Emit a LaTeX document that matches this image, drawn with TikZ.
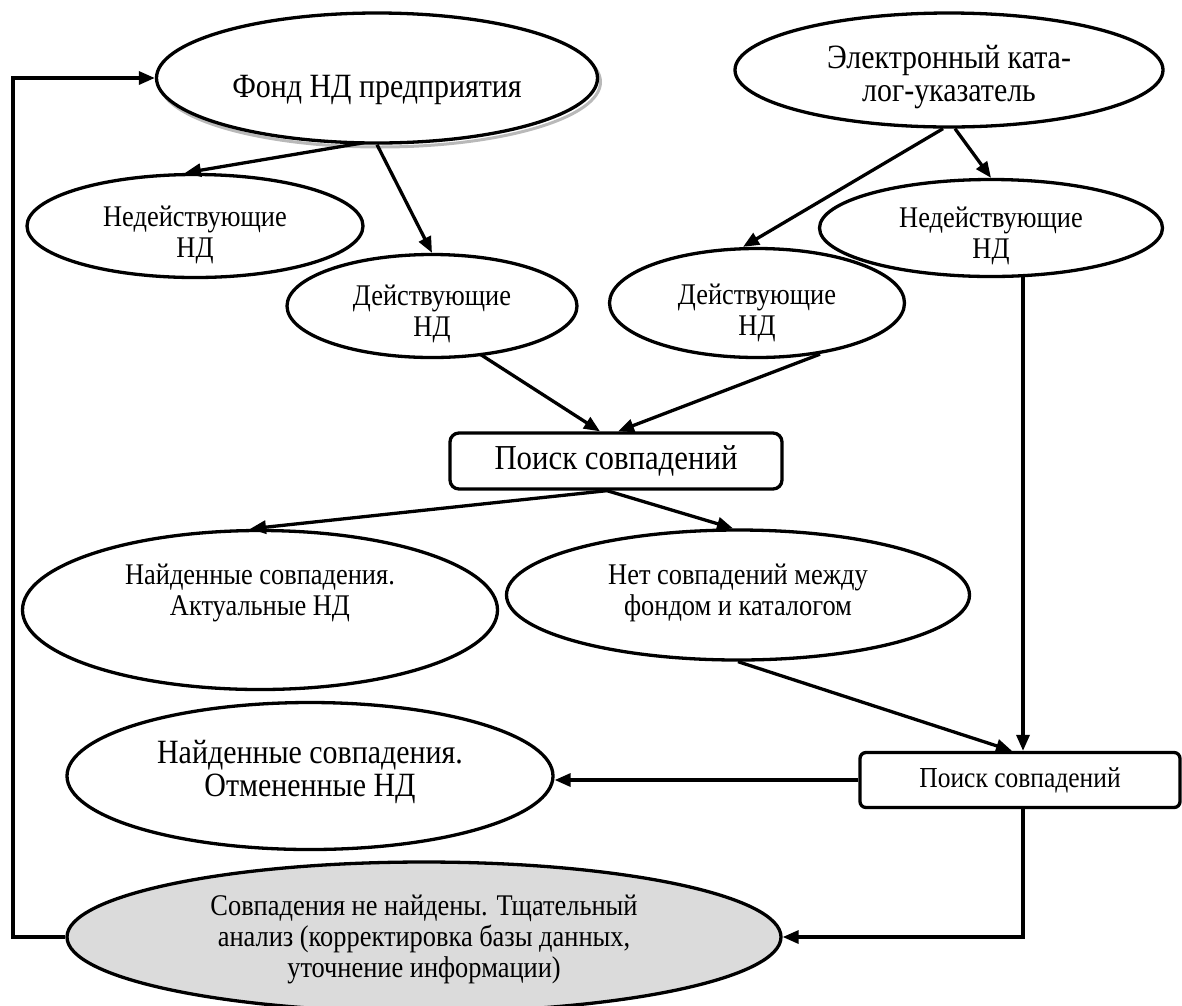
\documentclass[tikz,border=0pt]{standalone}
\usepackage{fontspec}
\setmainfont{Liberation Serif}[FakeStretch=0.88]
\usetikzlibrary{shapes.geometric,arrows.meta,calc}
\begin{document}
\begin{tikzpicture}[x=1pt,y=-1pt,
  ell/.style={ellipse,draw,line width=3.3pt,inner sep=0pt,fill=white},
  txt/.style={align=center,inner sep=0pt},
  sm/.style={font=\fontsize{30}{31}\selectfont},
  lg/.style={font=\fontsize{34}{33}\selectfont},
  rbox/.style={rectangle,rounded corners=9pt,draw,line width=3.3pt,align=center,inner sep=0pt,fill=white},
  arr/.style={line width=3.3pt,-{Triangle[length=16pt,width=13pt]}}]
\useasboundingbox (0,0) rectangle (1182,1005);
% shadow of the top-left ellipse
\node[ellipse,draw=gray!55,line width=3pt,minimum width=441pt,minimum height=130pt,inner sep=0pt] (fondsh) at (380,82) {};
% nodes
\node[ell,minimum width=441pt,minimum height=130pt,
  label={[name=fondT,txt,lg,yshift=-12pt]center:{Фонд НД предприятия}}] (fond) at (377,78) {};
\node[ell,minimum width=428pt,minimum height=114pt,
  label={[name=catT,txt,lg,yshift=-7pt]center:{Электронный ката-\\лог-указатель}}] (cat) at (949,70) {};
\node[ell,minimum width=336pt,minimum height=103pt,
  label={[name=nedLT,txt,sm,yshift=-9pt]center:{Недействующие\\НД}}] (nedL) at (195,226) {};
\node[ell,minimum width=290pt,minimum height=103pt,
  label={[name=dejLT,txt,sm,yshift=-8pt]center:{Действующие\\НД}}] (dejL) at (432,306) {};
\node[ell,minimum width=295pt,minimum height=109pt,
  label={[name=dejRT,txt,sm,yshift=-10pt]center:{Действующие\\НД}}] (dejR) at (757,303) {};
\node[ell,minimum width=343pt,minimum height=97pt,
  label={[name=nedRT,txt,sm,yshift=-8pt]center:{Недействующие\\НД}}] (nedR) at (991,228) {};
\node[rbox,font=\fontsize{35}{36}\selectfont,minimum width=332pt,minimum height=56pt] (box1) at (616,461) {Поиск совпадений};
\node[ell,minimum width=475pt,minimum height=159pt,
  label={[name=aktT,txt,sm,yshift=17pt]center:{Найденные совпадения.\\Актуальные НД}}] (akt) at (260,610) {};
\node[ell,minimum width=463pt,minimum height=130pt,
  label={[name=netT,txt,sm,yshift=2pt]center:{Нет совпадений между\\фондом и каталогом}}] (net) at (738,595) {};
\node[rbox,rounded corners=6pt,font=\fontsize{29}{30}\selectfont,minimum width=320pt,minimum height=55pt] (box2) at (1020,780) {Поиск совпадений};
\node[ell,minimum width=486pt,minimum height=147pt,
  label={[name=otmT,txt,lg,yshift=4pt]center:{Найденные совпадения.\\Отмененные НД}}] (otm) at (310,776) {};
\node[ell,fill=black!14,minimum width=714pt,minimum height=150pt,
  label={[name=grayT,txt,sm,yshift=-2pt]center:{Совпадения не найдены. Тщательный\\анализ (корректировка базы данных,\\уточнение информации)}}] (gray) at (424,937) {};
% loop back
\coordinate (loopx) at (13,0);
\draw[arr] (gray.west) -- (gray.west -| loopx) |- (fond.west);
% connectors
\draw[arr] ($(fond.south)+(-13,-2)$) -- ($(nedL.north)+(-10,0)$);
\draw[arr] ($(fond.south)+(0,0)$) -- (dejL.north);
\draw[arr] ($(cat.south)+(-6,0)$) -- ($(dejR.north)+(-14,0)$);
\draw[arr] ($(cat.south)+(6,0)$) -- (nedR.north);
\draw[arr] ($(dejL.south)+(48,-5)$) -- ($(box1.north)+(-16,0)$);
\draw[arr] ($(dejR.south)+(63,-5)$) -- ($(box1.north)+(2,0)$);
\draw[arr] ($(box1.south)+(-9,0)$) -- ($(akt.north)+(-10,0)$);
\draw[arr] ($(box1.south)+(-9,0)$) -- ($(net.north)+(-5,0)$);
\draw[arr] (net.south) -- ($(box2.north)+(-8,0)$);
\draw[arr] ($(nedR.south)+(32,-1)$) -- ($(box2.north)+(3,0)$);
\draw[arr] (box2.west) -- (box2.west -| otm.east);
\draw[arr] ($(box2.south)+(3,0)$) |- (gray.east);
\end{tikzpicture}
\end{document}
